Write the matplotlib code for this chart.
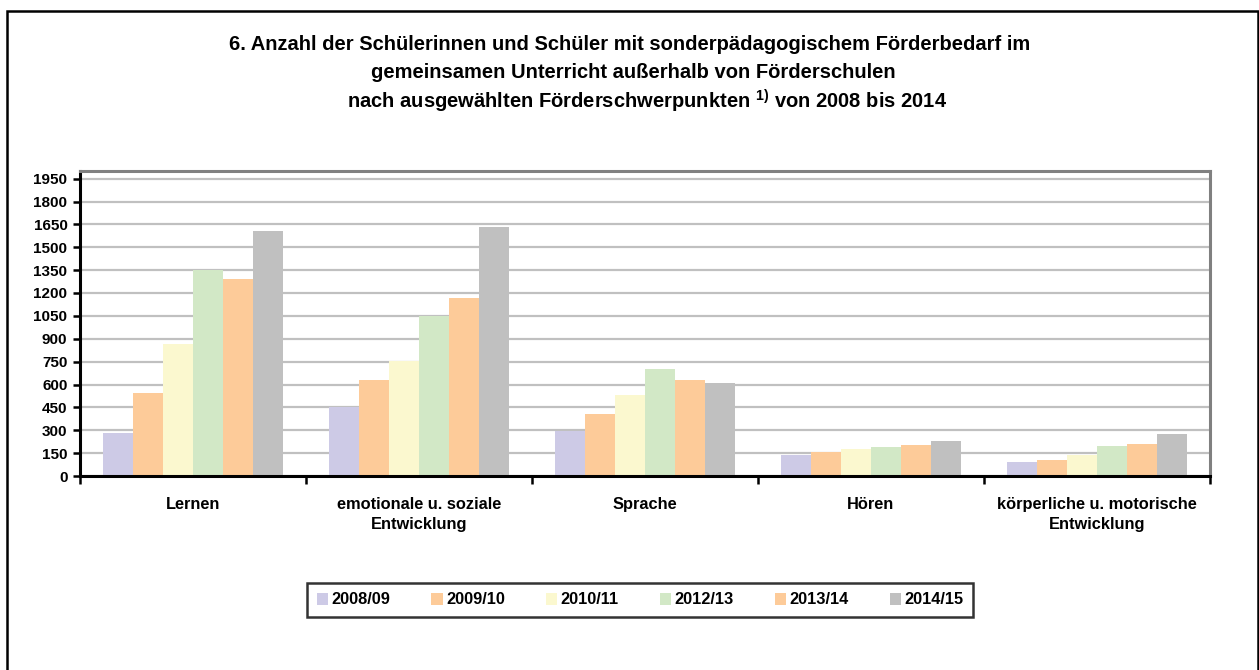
import matplotlib.pyplot as plt
import numpy as np
from matplotlib.patches import Rectangle

plt.rcParams["font.family"] = ["Liberation Sans", "DejaVu Sans"]
plt.rcParams["font.weight"] = "bold"
plt.rcParams["mathtext.fontset"] = "custom"
plt.rcParams["mathtext.rm"] = "Liberation Sans:bold"
plt.rcParams["mathtext.bf"] = "Liberation Sans:bold"

categories = [
    "Lernen",
    "emotionale u. soziale\nEntwicklung",
    "Sprache",
    "Hören",
    "körperliche u. motorische\nEntwicklung",
]
years = ["2008/09", "2009/10", "2010/11", "2012/13", "2013/14", "2014/15"]
v_2008 = [283, 450, 295, 138, 90]
v_2009 = [542, 627, 404, 155, 103]
v_2010 = [863, 753, 528, 177, 138]
v_2012 = [1354, 1046, 699, 188, 195]
v_2013 = [1295, 1164, 627, 201, 208]
v_2014 = [1609, 1636, 607, 227, 273]
y_ticks = list(range(0, 1951, 150))

series = [v_2008, v_2009, v_2010, v_2012, v_2013, v_2014]
colors = ["#cdcae6", "#fdcb99", "#fbf8cf", "#d2e8c6", "#fdcb99", "#c0c0c0"]

fig = plt.figure(figsize=(12.59, 6.70), dpi=100)
ax = fig.add_axes([80 / 1259, 1 - 476 / 670, 1130 / 1259, 305 / 670])

x = np.arange(len(categories))
n = len(series)
w = 0.8 / n
for i, (vals, c, lab) in enumerate(zip(series, colors, years)):
    ax.bar(x - 0.4 + w * (i + 0.5), vals, width=w, color=c, label=lab, zorder=2)

ax.set_xlim(-0.5, len(categories) - 0.5)
ax.set_ylim(0, 2000)
ax.set_yticks(y_ticks)
ax.set_yticklabels([str(t) for t in y_ticks], fontsize=11, fontweight="bold")
ax.yaxis.grid(True, color="#c0c0c0", linewidth=1.6, zorder=0)
ax.set_axisbelow(True)

ax.set_xticks(x)
ax.set_xticklabels(categories, fontsize=11.8, fontweight="bold", linespacing=1.45)
ax.set_xticks(np.arange(-0.5, len(categories), 1.0), minor=True)
ax.tick_params(axis="x", which="major", length=0, pad=15)
ax.tick_params(axis="x", which="minor", direction="out", length=6, width=1.8, color="black")
ax.tick_params(axis="y", direction="out", length=5, width=1.8, pad=4)

for side in ("left", "bottom"):
    ax.spines[side].set_color("black")
    ax.spines[side].set_linewidth(2.2)
for side in ("top", "right"):
    ax.spines[side].set_color("#808080")
    ax.spines[side].set_linewidth(2.2)

title_kw = dict(ha="center", va="center", fontsize=14.5, fontweight="bold")
fig.text(630 / 1259, 1 - 45 / 670,
         "6. Anzahl der Schülerinnen und Schüler mit sonderpädagogischem Förderbedarf im",
         **title_kw)
fig.text(633 / 1259, 1 - 72 / 670,
         "gemeinsamen Unterricht außerhalb von Förderschulen", **title_kw)
fig.text(647 / 1259, 1 - 101 / 670,
         r"nach ausgewählten Förderschwerpunkten $^{1)}$ von 2008 bis 2014", **title_kw)

leg = ax.legend(loc="center", bbox_to_anchor=(640 / 1259, 1 - 600 / 670),
                bbox_transform=fig.transFigure, ncol=6, frameon=True,
                fancybox=False, edgecolor="black", fontsize=11.8,
                handlelength=0.7, handleheight=0.7, handletextpad=0.2,
                columnspacing=2.5, borderpad=0.6, borderaxespad=0)
leg.get_frame().set_linewidth(1.8)

fig.patches.append(Rectangle((7 / 1259, -0.01), 1251 / 1259, 1 - 11 / 670 + 0.01,
                             transform=fig.transFigure, fill=False,
                             edgecolor="black", linewidth=1.8, zorder=10))

fig.savefig("out.png", dpi=100, facecolor="white")
